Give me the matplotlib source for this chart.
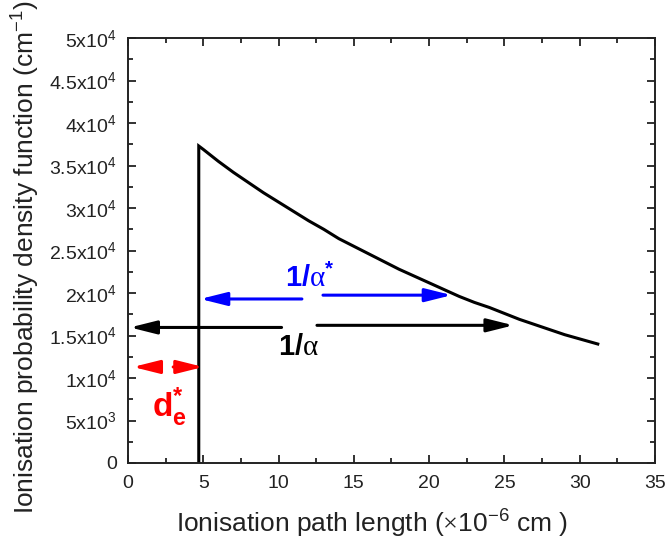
import matplotlib
matplotlib.use("Agg")
import matplotlib.pyplot as plt
from matplotlib.ticker import MultipleLocator, FixedLocator, FixedFormatter

plt.rcParams['font.family'] = ['Liberation Sans', 'DejaVu Sans']
plt.rcParams['mathtext.fontset'] = 'custom'
plt.rcParams['mathtext.rm'] = 'Liberation Serif'
plt.rcParams['mathtext.sf'] = 'Liberation Sans'
plt.rcParams['mathtext.it'] = 'Liberation Sans:italic'
plt.rcParams['mathtext.bf'] = 'Liberation Sans:bold'

# Data (x in 1e-6 cm, y in cm^-1)
path_length = [4.7, 4.7, 5, 6, 7, 8, 9, 10, 11, 12, 13, 14, 15, 16, 17, 18, 19,
               20, 21, 22, 23, 24, 25, 26, 27, 28, 29, 30, 31.2]
pdf_values = [0, 37300, 36900, 35500, 34200, 33000, 31800, 30700, 29600, 28500,
              27500, 26400, 25500, 24600, 23700, 22800, 22000, 21200, 20400,
              19600, 18900, 18300, 17600, 16900, 16300, 15700, 15100, 14600, 14000]

y_ticks = [0, 5000, 10000, 15000, 20000, 25000, 30000, 35000, 40000, 45000, 50000]
y_tick_labels = ['0', r'5x10$^{\mathsf{3}}$', r'1x10$^{\mathsf{4}}$', r'1.5x10$^{\mathsf{4}}$',
                 r'2x10$^{\mathsf{4}}$', r'2.5x10$^{\mathsf{4}}$', r'3x10$^{\mathsf{4}}$',
                 r'3.5x10$^{\mathsf{4}}$', r'4x10$^{\mathsf{4}}$', r'4.5x10$^{\mathsf{4}}$',
                 r'5x10$^{\mathsf{4}}$']
x_ticks = [0, 5, 10, 15, 20, 25, 30, 35]

fig = plt.figure(figsize=(6.67, 5.44), dpi=100)
ax = fig.add_axes([0.1919, 0.1489, 0.982 - 0.1919, 0.930 - 0.1489])

ax.plot(path_length, pdf_values, color='black', lw=2.2, solid_joinstyle='miter')

ax.set_xlim(0, 35)
ax.set_ylim(0, 50000)
ax.xaxis.set_major_locator(FixedLocator(x_ticks))
ax.xaxis.set_minor_locator(MultipleLocator(2.5))
ax.yaxis.set_major_locator(FixedLocator(y_ticks))
ax.yaxis.set_major_formatter(FixedFormatter(y_tick_labels))
ax.yaxis.set_minor_locator(MultipleLocator(2500))
ax.tick_params(which='both', direction='in', top=True, right=True, width=1.3,
               labelsize=14, colors='#222222')
ax.tick_params(which='major', length=6)
ax.tick_params(which='minor', length=3.5)
ax.tick_params(axis='x', pad=9)
ax.tick_params(axis='y', pad=8)
for s in ax.spines.values():
    s.set_linewidth(1.4)
    s.set_color('#222222')

ax.set_xlabel(r'Ionisation path length ($\times$10$^{\mathsf{-6}}$ cm )', fontsize=19,
              color='#222222')
ax.xaxis.set_label_coords(0.463, -0.105)
ax.set_ylabel(r'Ionisation probability density function (cm$^{\mathsf{-1}}$)', fontsize=19,
              color='#222222')
ax.yaxis.set_label_coords(-0.163, 0.485)

def arrow(x0, y0, x1, y1, color):
    ax.annotate('', xy=(x1, y1), xytext=(x0, y0),
                arrowprops=dict(arrowstyle='-|>,head_length=0.8,head_width=0.2',
                                color=color, lw=2.2, mutation_scale=20,
                                shrinkA=0, shrinkB=0))

# 1/alpha* (blue)
arrow(11.55, 19300, 4.8, 19300, 'blue')
arrow(12.95, 19750, 21.5, 19750, 'blue')
ax.text(10.4, 20700, r'$\mathbf{1/}\mathrm{\alpha}^{\mathbf{*}}$', color='blue', fontsize=21,
        ha='left', va='baseline')

# 1/alpha (black)
arrow(10.2, 15950, 0.13, 15950, 'black')
arrow(12.55, 16200, 25.6, 16200, 'black')
ax.text(9.96, 12700, r'$\mathbf{1/}\mathrm{\alpha}$', color='black', fontsize=21,
        ha='left', va='baseline')

# d*_e (red, dashed)
arrow(2.0, 11300, 0.33, 11300, 'red')
arrow(3.0, 11300, 5.0, 11300, 'red')
ax.text(1.6, 5400, r'$\mathbf{d}^{\mathbf{*}}_{\mathbf{e}}$', color='red', fontsize=24,
        ha='left', va='baseline')

fig.savefig('out.png', dpi=100)
